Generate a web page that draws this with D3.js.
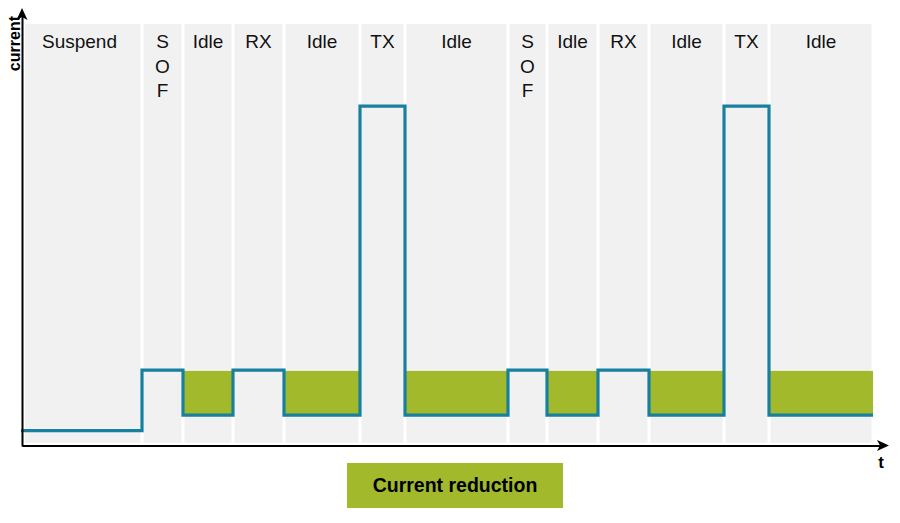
<!DOCTYPE html>
<html>
<head>
<meta charset="utf-8">
<script src="https://cdn.jsdelivr.net/npm/d3@7/dist/d3.min.js"></script>
<style>
  html, body { margin: 0; padding: 0; background: #ffffff; }
  svg { display: block; }
  text { font-family: "Liberation Sans", Arial, sans-serif; }
</style>
</head>
<body>
<svg id="chart" width="900" height="523"></svg>
<script>
// ---- data ----
const phases = ["Suspend", "SOF", "Idle", "RX", "Idle", "TX", "Idle", "SOF", "Idle", "RX", "Idle", "TX", "Idle"];
// time boundaries between phases (arbitrary time units)
const boundaries = [0, 121, 162, 212, 263, 339, 384, 487, 526, 577, 628, 703, 748, 852];
// current level of each phase (arbitrary units, 0-100)
const currentLevels = [3.4, 17.8, 7.1, 17.8, 7.1, 80.5, 7.1, 17.8, 7.1, 17.8, 7.1, 80.5, 7.1];
// level the idle current would have without reduction
const unreducedLevel = 17.6;
const yAxisLabel = "current";
const xAxisLabel = "t";
const legendLabel = "Current reduction";

// ---- styles ----
const panelColor = "#f1f1f1";
const lineColor = "#17809e";
const greenColor = "#a2b92c";

const svg = d3.select("#chart");

const x = d3.scaleLinear().domain([0, 852]).range([21, 873]);
const y = d3.scaleLinear().domain([0, 100]).range([445, 24]);

const segs = phases.map((p, i) => ({
  name: p, i,
  t0: boundaries[i], t1: boundaries[i + 1],
  level: currentLevels[i]
}));

// background panels
svg.append("g").selectAll("rect").data(segs).join("rect")
  .attr("x", d => d.i === 0 ? x(d.t0) + 4 : x(d.t0) + 1.5)
  .attr("y", y(100))
  .attr("width", d => (x(d.t1) - 1.5) - (d.i === 0 ? x(d.t0) + 4 : x(d.t0) + 1.5))
  .attr("height", y(0.5) - y(100))
  .attr("fill", panelColor);

// labels
const lab = svg.append("g");
segs.forEach(d => {
  const cx = (x(d.t0) + x(d.t1)) / 2 + (d.i === 0 ? -2 : 0);
  const lines = d.name === "SOF" ? d.name.split("") : [d.name];
  lines.forEach((s, k) => {
    lab.append("text")
      .attr("x", cx)
      .attr("y", 48 + k * 24.5)
      .attr("text-anchor", "middle")
      .attr("font-size", 19)
      .attr("fill", "#111")
      .text(s);
  });
});

// green reduction areas (Idle phases)
svg.append("g").selectAll("rect").data(segs.filter(d => d.name === "Idle")).join("rect")
  .attr("x", d => x(d.t0))
  .attr("y", y(unreducedLevel))
  .attr("width", d => x(d.t1) - x(d.t0))
  .attr("height", d => y(d.level) - y(unreducedLevel))
  .attr("fill", greenColor);

// current step line
const pts = [];
segs.forEach(d => { pts.push([d.t0, d.level]); pts.push([d.t1, d.level]); });
svg.append("path")
  .attr("d", d3.line().x(p => x(p[0])).y(p => y(p[1]))(pts))
  .attr("fill", "none")
  .attr("stroke", lineColor)
  .attr("stroke-width", 3.2)
  .attr("stroke-linejoin", "miter");

// axes (no ticks)
const xAxisScale = d3.scaleLinear().domain([0, 1]).range([22, 882]);
const yAxisScale = d3.scaleLinear().domain([0, 1]).range([446, 14]);
svg.append("g")
  .attr("transform", "translate(0,445.5)")
  .call(d3.axisBottom(xAxisScale).tickValues([]).tickSizeOuter(0))
  .select(".domain").attr("stroke", "#000").attr("stroke-width", 2);
svg.append("g")
  .attr("transform", "translate(22,0)")
  .call(d3.axisLeft(yAxisScale).tickValues([]).tickSizeOuter(0))
  .select(".domain").attr("stroke", "#000").attr("stroke-width", 2);

// arrowheads
svg.append("path")
  .attr("d", `M${xAxisScale(1) + 7},445.5 L${xAxisScale(1) - 5},440 L${xAxisScale(1) - 2},445.5 L${xAxisScale(1) - 5},451 Z`)
  .attr("fill", "#000");
svg.append("path")
  .attr("d", `M22,${yAxisScale(1) - 6} L16.5,${yAxisScale(1) + 6} L22,${yAxisScale(1) + 3} L27.5,${yAxisScale(1) + 6} Z`)
  .attr("fill", "#000");

// axis labels
svg.append("text")
  .attr("transform", "translate(19.5,16) rotate(-90)")
  .attr("text-anchor", "end")
  .attr("font-size", 16)
  .attr("font-weight", "bold")
  .attr("fill", "#000")
  .text(yAxisLabel);
svg.append("text")
  .attr("x", 881)
  .attr("y", 468)
  .attr("text-anchor", "middle")
  .attr("font-size", 17)
  .attr("font-weight", "bold")
  .attr("fill", "#000")
  .text(xAxisLabel);

// legend
const lg = svg.append("g");
lg.append("rect")
  .attr("x", 347).attr("y", 463).attr("width", 216).attr("height", 45)
  .attr("fill", greenColor);
lg.append("text")
  .attr("x", 455).attr("y", 492)
  .attr("text-anchor", "middle")
  .attr("font-size", 19.5)
  .attr("font-weight", "bold")
  .attr("fill", "#000")
  .text(legendLabel);
</script>
</body>
</html>
